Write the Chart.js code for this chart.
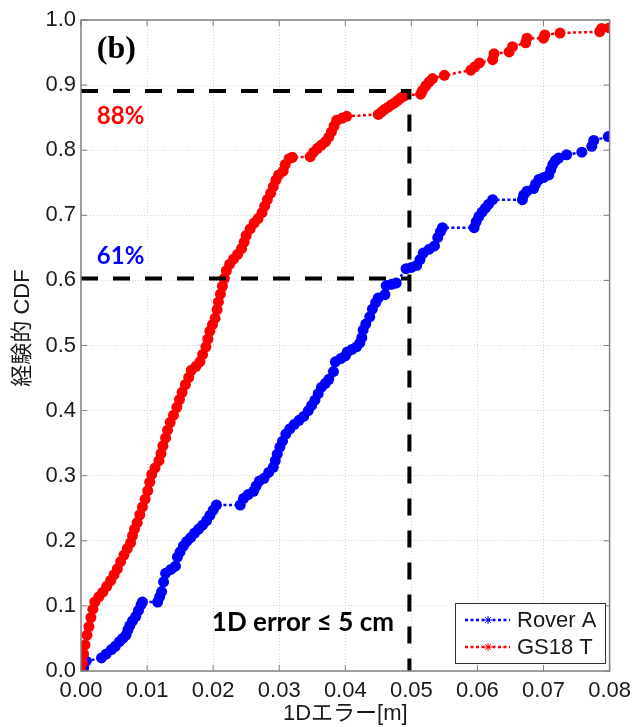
<!DOCTYPE html>
<html>
<head>
<meta charset="utf-8">
<script src="https://cdn.jsdelivr.net/npm/chart.js@4.4.0/dist/chart.umd.min.js"></script>
<style>
  html, body { margin: 0; padding: 0; background: #fff; }
  #wrap { width: 638px; height: 727px; }
</style>
</head>
<body>
<div id="wrap"><canvas id="cdf"></canvas></div>
<script>
const gsX = [0.0000, 0.0002, 0.0004, 0.0006, 0.0009, 0.0012, 0.0015, 0.0018, 0.0021, 0.0027,
  0.0033, 0.0039, 0.0045, 0.0050, 0.0055, 0.0060, 0.0065, 0.0070, 0.0075, 0.0078,
  0.0081, 0.0085, 0.0089, 0.0093, 0.0097, 0.0101, 0.0104, 0.0107, 0.0112, 0.0118,
  0.0121, 0.0124, 0.0128, 0.0131, 0.0135, 0.0140, 0.0145, 0.0149, 0.0153, 0.0158,
  0.0163, 0.0167, 0.0174, 0.0180, 0.0184, 0.0189, 0.0192, 0.0195, 0.0199, 0.0203,
  0.0206, 0.0208, 0.0211, 0.0214, 0.0217, 0.0220, 0.0225, 0.0231, 0.0237, 0.0243,
  0.0247, 0.0250, 0.0256, 0.0262, 0.0268, 0.0274, 0.0278, 0.0282, 0.0287, 0.0291,
  0.0295, 0.0299, 0.0306, 0.0309, 0.0315, 0.0320, 0.0347, 0.0352, 0.0358, 0.0364,
  0.0370, 0.0375, 0.0379, 0.0383, 0.0387, 0.0395, 0.0402, 0.0450, 0.0455, 0.0460,
  0.0465, 0.0470, 0.0475, 0.0480, 0.0485, 0.0490, 0.0514, 0.0517, 0.0522, 0.0527,
  0.0532, 0.0550, 0.0590, 0.0596, 0.0603, 0.0623, 0.0625, 0.0648, 0.0653, 0.0673,
  0.0675, 0.0700, 0.0702, 0.0725, 0.0785, 0.0788, 0.0800];
const gsY = [0.000, 0.012, 0.026, 0.040, 0.055, 0.068, 0.082, 0.095, 0.106, 0.114,
  0.121, 0.130, 0.139, 0.148, 0.157, 0.168, 0.178, 0.188, 0.197, 0.208,
  0.218, 0.228, 0.240, 0.252, 0.264, 0.277, 0.290, 0.302, 0.312, 0.323,
  0.334, 0.346, 0.358, 0.370, 0.382, 0.393, 0.405, 0.417, 0.428, 0.440,
  0.451, 0.462, 0.468, 0.475, 0.486, 0.498, 0.510, 0.522, 0.532, 0.542,
  0.555, 0.567, 0.579, 0.591, 0.603, 0.615, 0.625, 0.633, 0.640, 0.649,
  0.659, 0.669, 0.679, 0.688, 0.695, 0.704, 0.714, 0.724, 0.734, 0.744,
  0.754, 0.762, 0.768, 0.778, 0.787, 0.789, 0.790, 0.797, 0.803, 0.808,
  0.813, 0.820, 0.828, 0.837, 0.846, 0.849, 0.852, 0.855, 0.859, 0.863,
  0.866, 0.870, 0.873, 0.877, 0.881, 0.884, 0.886, 0.892, 0.899, 0.905,
  0.910, 0.915, 0.923, 0.928, 0.934, 0.939, 0.948, 0.951, 0.959, 0.965,
  0.972, 0.972, 0.977, 0.980, 0.982, 0.987, 0.988];

const roverX = [0.0000, 0.0004, 0.0008, 0.0031, 0.0038, 0.0046, 0.0052, 0.0058, 0.0063, 0.0068,
  0.0071, 0.0074, 0.0078, 0.0083, 0.0087, 0.0091, 0.0093, 0.0116, 0.0119, 0.0122,
  0.0125, 0.0128, 0.0136, 0.0143, 0.0146, 0.0150, 0.0155, 0.0160, 0.0166, 0.0172,
  0.0178, 0.0184, 0.0190, 0.0195, 0.0200, 0.0205, 0.0241, 0.0246, 0.0253, 0.0261,
  0.0265, 0.0270, 0.0277, 0.0284, 0.0291, 0.0294, 0.0297, 0.0301, 0.0305, 0.0310,
  0.0316, 0.0323, 0.0330, 0.0337, 0.0344, 0.0349, 0.0354, 0.0359, 0.0364, 0.0370,
  0.0375, 0.0382, 0.0385, 0.0393, 0.0400, 0.0403, 0.0410, 0.0417, 0.0422, 0.0425,
  0.0427, 0.0431, 0.0437, 0.0441, 0.0446, 0.0450, 0.0460, 0.0462, 0.0470, 0.0477,
  0.0492, 0.0500, 0.0508, 0.0513, 0.0518, 0.0527, 0.0535, 0.0540, 0.0544, 0.0547,
  0.0595, 0.0598, 0.0602, 0.0607, 0.0612, 0.0617, 0.0623, 0.0668, 0.0670, 0.0675,
  0.0685, 0.0688, 0.0693, 0.0700, 0.0708, 0.0711, 0.0714, 0.0718, 0.0723, 0.0735,
  0.0758, 0.0773, 0.0776, 0.0798];
const roverY = [0.000, 0.005, 0.015, 0.020, 0.026, 0.033, 0.038, 0.045, 0.050, 0.055,
  0.063, 0.070, 0.077, 0.084, 0.093, 0.102, 0.106, 0.106, 0.114, 0.122,
  0.137, 0.150, 0.156, 0.161, 0.175, 0.183, 0.192, 0.199, 0.205, 0.212,
  0.218, 0.224, 0.231, 0.239, 0.247, 0.255, 0.255, 0.265, 0.271, 0.276,
  0.284, 0.292, 0.296, 0.305, 0.313, 0.323, 0.333, 0.344, 0.353, 0.364,
  0.372, 0.379, 0.385, 0.391, 0.400, 0.408, 0.416, 0.426, 0.436, 0.442,
  0.448, 0.460, 0.475, 0.480, 0.484, 0.490, 0.494, 0.498, 0.504, 0.512,
  0.524, 0.533, 0.544, 0.556, 0.566, 0.573, 0.578, 0.592, 0.594, 0.596,
  0.618, 0.620, 0.623, 0.632, 0.642, 0.648, 0.653, 0.666, 0.675, 0.681,
  0.681, 0.690, 0.698, 0.705, 0.711, 0.717, 0.724, 0.724, 0.731, 0.737,
  0.741, 0.748, 0.755, 0.758, 0.762, 0.770, 0.778, 0.784, 0.788, 0.793,
  0.797, 0.806, 0.815, 0.821];

// guide lines: 5 cm threshold and where each curve crosses it
const limitX = [0, 0.0497, 0.0497];
const limitY = [0.891, 0.891, 0];
const level61X = [0, 0.0497];
const level61Y = [0.603, 0.603];

const xTicks = [0, 0.01, 0.02, 0.03, 0.04, 0.05, 0.06, 0.07, 0.08];
const yTicks = [0, 0.1, 0.2, 0.3, 0.4, 0.5, 0.6, 0.7, 0.8, 0.9, 1.0];

const toPts = (xs, ys) => xs.map((x, i) => ({ x: x, y: ys[i] }));

const decorPlugin = {
  id: "decor",
  afterDraw(chart) {
    const { ctx, chartArea: a } = chart;
    const sx = chart.scales.x, sy = chart.scales.y;
    ctx.save();

    // box + inward ticks like matlab
    ctx.strokeStyle = "#7f7f7f";
    ctx.lineWidth = 1.5;
    ctx.strokeRect(a.left, a.top, a.right - a.left, a.bottom - a.top);
    ctx.lineWidth = 1;
    ctx.beginPath();
    xTicks.forEach(v => {
      const p = sx.getPixelForValue(v);
      ctx.moveTo(p, a.bottom); ctx.lineTo(p, a.bottom - 6);
      ctx.moveTo(p, a.top); ctx.lineTo(p, a.top + 6);
    });
    yTicks.forEach(v => {
      const p = sy.getPixelForValue(v);
      ctx.moveTo(a.left, p); ctx.lineTo(a.left + 6, p);
      ctx.moveTo(a.right, p); ctx.lineTo(a.right - 6, p);
    });
    ctx.stroke();

    // axis titles
    ctx.fillStyle = "#1a1a1a";
    ctx.font = "22px 'Liberation Sans', 'Noto Sans CJK JP', sans-serif";
    ctx.textAlign = "center";
    ctx.textBaseline = "middle";
    ctx.fillText("1Dエラー[m]", (a.left + a.right) / 2, 714);
    ctx.save();
    ctx.translate(23, 328);
    ctx.rotate(-Math.PI / 2);
    ctx.fillText("経験的 CDF", 0, 0);
    ctx.restore();

    // annotations
    ctx.textAlign = "left";
    ctx.font = "bold 32px 'Liberation Serif', serif";
    ctx.fillStyle = "#000";
    ctx.fillText("(b)", sx.getPixelForValue(0.0024), sy.getPixelForValue(0.955));
    ctx.font = "bold 24px Lato, sans-serif";
    ctx.fillStyle = "#ff0000";
    ctx.fillText("88%", sx.getPixelForValue(0.0024), sy.getPixelForValue(0.8525));
    ctx.fillStyle = "#0000ff";
    ctx.fillText("61%", sx.getPixelForValue(0.0024), sy.getPixelForValue(0.6375));
    ctx.fillStyle = "#000";
    ctx.font = "bold 26px Lato, sans-serif";
    ctx.fillText("1D error ≤ 5 cm", sx.getPixelForValue(0.0198), sy.getPixelForValue(0.0737));

    // legend box
    const bx = 455, by = 603, bw = 150, bh = 60;
    ctx.fillStyle = "#fff";
    ctx.fillRect(bx, by, bw, bh);
    ctx.strokeStyle = "#333";
    ctx.lineWidth = 1;
    ctx.strokeRect(bx + 0.5, by + 0.5, bw, bh);
    const items = chart.data.datasets.filter(d => d.inLegend);
    items.forEach((d, i) => {
      const yy = by + 17 + i * 27;
      ctx.strokeStyle = d.borderColor;
      ctx.lineWidth = 2.5;
      ctx.setLineDash([3, 2.5]);
      ctx.beginPath();
      ctx.moveTo(bx + 10, yy); ctx.lineTo(bx + 55, yy);
      ctx.stroke();
      ctx.setLineDash([]);
      ctx.lineWidth = 1;
      ctx.beginPath();
      const cx = bx + 33;
      for (let k = 0; k < 4; k++) {
        const ang = k * Math.PI / 4;
        ctx.moveTo(cx - 4 * Math.cos(ang), yy - 4 * Math.sin(ang));
        ctx.lineTo(cx + 4 * Math.cos(ang), yy + 4 * Math.sin(ang));
      }
      ctx.stroke();
      ctx.fillStyle = "#1a1a1a";
      ctx.font = "22px 'Liberation Sans', sans-serif";
      ctx.textAlign = "left";
      ctx.fillText(d.label, bx + 62, yy + 1);
    });
    ctx.restore();
  }
};

new Chart(document.getElementById("cdf"), {
  type: "line",
  data: {
    datasets: [
      {
        label: "limit", data: toPts(limitX, limitY), order: 0,
        borderColor: "#000", borderWidth: 4, borderDash: [17, 15],
        pointRadius: 0, fill: false
      },
      {
        label: "level61", data: toPts(level61X, level61Y), order: 0,
        borderColor: "#000", borderWidth: 4, borderDash: [17, 15],
        pointRadius: 0, fill: false
      },
      {
        label: "Rover A", data: toPts(roverX, roverY), order: 2, inLegend: true,
        borderColor: "#0000ff", backgroundColor: "#0000ff",
        borderWidth: 2.5, borderDash: [3, 2.5],
        pointRadius: 5.5, pointBorderWidth: 0, fill: false
      },
      {
        label: "GS18 T", data: toPts(gsX, gsY), order: 1, inLegend: true,
        borderColor: "#ff0000", backgroundColor: "#ff0000",
        borderWidth: 2.5, borderDash: [3, 2.5],
        pointRadius: 5.5, pointBorderWidth: 0, fill: false
      }
    ]
  },
  options: {
    responsive: true,
    maintainAspectRatio: false,
    animation: false,
    devicePixelRatio: 1,
    layout: { padding: { left: 0, top: 20, right: 25, bottom: 0 } },
    plugins: { legend: { display: false }, tooltip: { enabled: false } },
    scales: {
      x: {
        type: "linear", min: 0, max: 0.08,
        afterFit(s) { s.height = 56; },
        afterBuildTicks(s) { s.ticks = xTicks.map(v => ({ value: v })); },
        ticks: {
          padding: 7, color: "#1a1a1a",
          font: { family: "'Liberation Sans', sans-serif", size: 22 },
          callback: v => v.toFixed(2)
        },
        grid: { color: "#d4d4d4", lineWidth: 1, drawTicks: false },
        border: { display: false, dash: [1, 2] }
      },
      y: {
        type: "linear", min: 0, max: 1,
        afterFit(s) { s.width = 81; },
        afterBuildTicks(s) { s.ticks = yTicks.map(v => ({ value: v })); },
        ticks: {
          padding: 5, color: "#1a1a1a",
          font: { family: "'Liberation Sans', sans-serif", size: 22 },
          callback: v => v.toFixed(1)
        },
        grid: { color: "#d4d4d4", lineWidth: 1, drawTicks: false },
        border: { display: false, dash: [1, 2] }
      }
    }
  },
  plugins: [decorPlugin]
});
</script>
</body>
</html>
